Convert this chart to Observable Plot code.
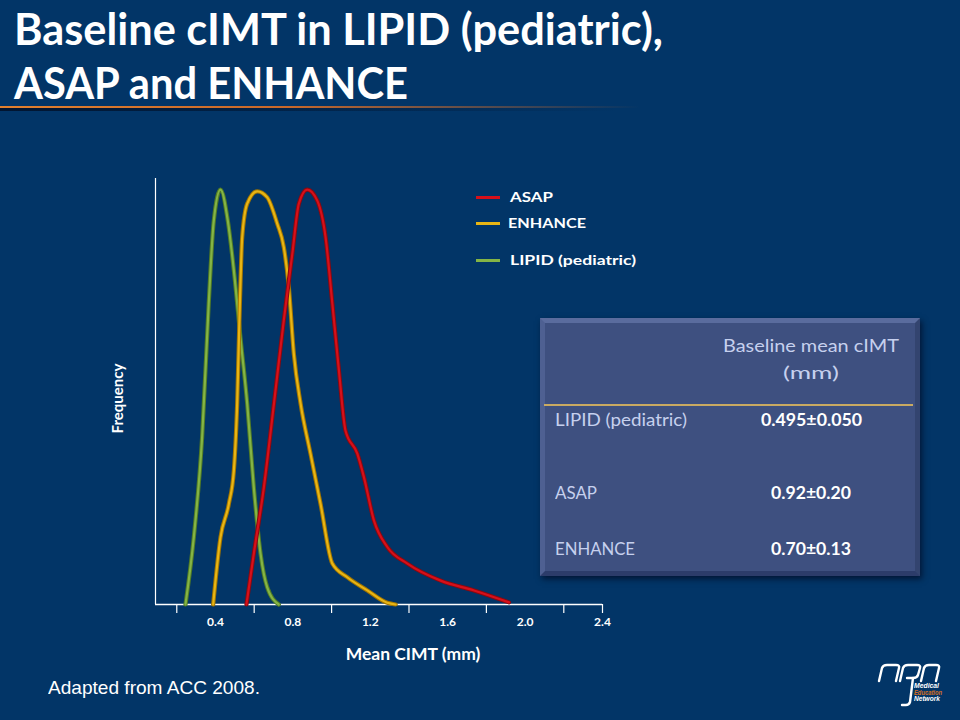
<!DOCTYPE html>
<html>
<head>
<meta charset="utf-8">
<script src="https://cdn.jsdelivr.net/npm/d3@7"></script>
<script src="https://cdn.jsdelivr.net/npm/@observablehq/plot@0.6"></script>
<style>
  html, body { margin: 0; padding: 0; background: #023567; }
  #page { position: relative; width: 960px; height: 720px; overflow: hidden;
          background: #023567; font-family: Lato, "Open Sans", sans-serif; }
  .t { position: absolute; white-space: nowrap; line-height: 1; transform-origin: 0 50%; }
  #plot { position: absolute; left: 0; top: 130px; }
  #rule { position: absolute; left: 0; top: 106px; width: 640px; height: 2px;
          background: linear-gradient(to right, #e2802e 0%, #c8682a 45%, rgba(200,104,42,0) 100%); }
  #ruleShadow { position: absolute; left: 0; top: 108px; width: 620px; height: 3px;
          background: linear-gradient(to right, rgba(0,10,30,0.75) 0%, rgba(0,10,30,0.4) 50%, rgba(0,10,30,0) 100%); }
  #table { position: absolute; left: 540px; top: 318px; width: 380px; height: 258px; box-sizing: border-box;
           background: #3e5080; border-top: 5px solid #5a6c9e; border-left: 5px solid #4e6092;
           border-bottom: 5px solid #2c3c6a; border-right: 5px solid #33446f;
           box-shadow: 2px 3px 6px rgba(0,0,20,0.6); }
  #gold { position: absolute; left: 544px; top: 404px; width: 369px; height: 2px; background: #c9aa62; }
  .leg { position: absolute; width: 24px; height: 3px; }
</style>
</head>
<body>
<div id="page">
  <div id="rule"></div><div id="ruleShadow"></div>
  <div id="plot"></div>
  <div id="table"></div>
  <div id="gold"></div>
</div>
<script>
// ---- data ----
const titleLines = ["Baseline cIMT in LIPID (pediatric),", "ASAP and ENHANCE"];
const seriesNames = ["ASAP", "ENHANCE", "LIPID (pediatric)"];
const seriesColors = ["#d6101a", "#e8b514", "#84b445"];
const seriesEdge = ["#8a0810", "#a07400", "#4f7a26"];

const asapX = [0.560, 0.598, 0.650, 0.702, 0.753, 0.797, 0.831, 0.874, 0.926, 0.969, 1.004, 1.038, 1.072, 1.133, 1.167, 1.219, 1.288, 1.392, 1.564, 1.736, 1.917];
const asapY = [0, 11.9, 27.5, 47.1, 66.7, 82.3, 94.1, 97.4, 94.8, 86.2, 70.6, 54.9, 40.8, 35.4, 29.9, 19.7, 13.5, 9.6, 5.6, 3.3, 0.5];

const enhanceX = [0.388, 0.426, 0.469, 0.495, 0.512, 0.526, 0.538, 0.564, 0.616, 0.667, 0.719, 0.753, 0.779, 0.805, 0.840, 0.891, 0.943, 1.004, 1.081, 1.185, 1.288, 1.331];
const enhanceY = [0, 15.8, 23.6, 31.5, 47.1, 70.6, 86.2, 94.1, 97.0, 95.6, 89.4, 83.9, 74.5, 58.8, 47.1, 35.4, 23.6, 9.6, 6.4, 3.3, 0.4, 0];

const lipidX = [0.245, 0.288, 0.331, 0.365, 0.391, 0.426, 0.464, 0.495, 0.529, 0.564, 0.598, 0.633, 0.667, 0.727];
const lipidY = [0, 15.8, 39.3, 70.6, 90, 97.4, 90, 78.4, 62.7, 47.1, 27.5, 11.9, 4.1, 0];

const xDomain = [0.09, 2.4];
const xTickLabels = [0.4, 0.8, 1.2, 1.6, 2.0, 2.4];
const xTickMarks = [0.2, 0.6, 1.0, 1.4, 1.8, 2.2, 2.4];
const xLabel = "Mean CIMT (mm)";
const yLabel = "Frequency";

const tableHeader = ["Baseline mean cIMT", "(mm)"];
const tableStudies = ["LIPID (pediatric)", "ASAP", "ENHANCE"];
const tableValues = ["0.495±0.050", "0.92±0.20", "0.70±0.13"];
const footnote = "Adapted from ACC 2008.";
const logoWords = ["Medical", "Education", "Network"];

// ---- build table for Plot ----
const xsAll = [asapX, enhanceX, lipidX], ysAll = [asapY, enhanceY, lipidY];
const rows = [];
[2, 1, 0].forEach(i => xsAll[i].forEach((x, j) => rows.push({series: seriesNames[i], x, y: ysAll[i][j], k: i})));

const chart = Plot.plot({
  width: 640, height: 540,
  marginLeft: 155, marginRight: 38, marginTop: 48, marginBottom: 66,
  style: {background: "transparent", color: "white", fontFamily: "Lato, 'Open Sans', sans-serif", overflow: "visible"},
  x: {domain: xDomain, axis: null},
  y: {domain: [0, 100], axis: null},
  color: {domain: seriesNames, range: seriesColors},
  marks: [
    Plot.ruleY([0], {stroke: "white", strokeWidth: 1.5}),
    Plot.ruleX([xDomain[0]], {stroke: "white", strokeWidth: 1.2}),
    Plot.axisX(xTickMarks, {tickSize: 9, tickFormat: () => "", stroke: "white", strokeWidth: 1.2, label: null}),
    Plot.axisX(xTickLabels, {tickSize: 0, tickPadding: 13, tickFormat: d3.format(".1f"), fontSize: 12, fontWeight: "bold", fill: "white", label: null}),
    ...[2, 1, 0].flatMap(i => [
      Plot.line(rows.filter(d => d.k === i), {x: "x", y: "y", curve: "monotone-x", stroke: seriesEdge[i], strokeWidth: 4.2, strokeLinecap: "round"}),
      Plot.line(rows.filter(d => d.k === i), {x: "x", y: "y", curve: "monotone-x", stroke: seriesColors[i], strokeWidth: 2.2, strokeLinecap: "round"})
    ]),
    Plot.text([xLabel], {frameAnchor: "bottom", dx: 34, dy: 55, fontSize: 17.5, fontWeight: "bold", fill: "white"}),
    Plot.text([yLabel], {frameAnchor: "left", textAnchor: "middle", dx: -37, dy: 7, rotate: -90, fontSize: 15, fontWeight: "bold", fill: "white"})
  ]
});
document.getElementById("plot").appendChild(chart);

// ---- text helpers ----
const page = document.getElementById("page");
function place(text, o) {
  const el = document.createElement("div");
  el.className = "t";
  el.textContent = text;
  el.style.fontFamily = o.family || "Lato, 'Open Sans', sans-serif";
  el.style.fontSize = o.fs + "px";
  el.style.fontWeight = o.weight || "normal";
  el.style.color = o.color || "white";
  const capC = o.capC || 0.53;
  el.style.top = (o.cy - capC * o.fs) + "px";
  page.appendChild(el);
  const w = el.getBoundingClientRect().width;
  const left = o.left !== undefined ? o.left : o.center - o.width / 2;
  el.style.left = left + "px";
  if (o.width) el.style.transform = "scaleX(" + (o.width / w) + ")";
  return el;
}

// title
place(titleLines[0], {left: 14, width: 649, cy: 29.5, fs: 43, weight: "bold"});
place(titleLines[1], {left: 14, width: 394, cy: 84, fs: 43, weight: "bold"});

// legend
const legY = [197, 223, 260];
const legW = [43, 78, 126];
seriesNames.forEach((n, i) => {
  const ln = document.createElement("div");
  ln.className = "leg";
  ln.style.left = "476px"; ln.style.top = (legY[i] - 1.5) + "px";
  ln.style.background = seriesColors[i];
  page.appendChild(ln);
  place(n, {left: i === 1 ? 508 : 510, width: legW[i], cy: legY[i], fs: 14, weight: "bold"});
});

// table
place(tableHeader[0], {left: 723, width: 176, cy: 347, fs: 16.5, color: "#c6d0ee"});
place(tableHeader[1], {center: 811, width: 56, cy: 374, fs: 16.5, color: "#c6d0ee"});
const rowY = [421, 494, 550];
const labW = [132, 42, 80];
const valW = [101, 80, 80];
tableStudies.forEach((s, i) => {
  place(s, {left: 555, width: labW[i], cy: rowY[i], fs: 16.5, color: "#c6d0ee"});
  place(tableValues[i], {center: 811, width: valW[i], cy: rowY[i], fs: 16.5, weight: "bold"});
});

// footnote
place(footnote, {left: 48, width: 212, cy: 688, fs: 18.6, family: "'Liberation Sans', Arial, sans-serif", capC: 0.49});

// logo
const svgNS = "http://www.w3.org/2000/svg";
const logo = document.createElementNS(svgNS, "svg");
logo.setAttribute("width", 80); logo.setAttribute("height", 55);
logo.style.position = "absolute"; logo.style.left = "872px"; logo.style.top = "658px";
logo.innerHTML = `
 <g fill="none" stroke="white" stroke-width="2.4" stroke-linejoin="round" stroke-linecap="round">
  <path d="M7,23 L10,10 Q11,7 15,7 L24,7 Q28,7 27,10 L24,23"/>
  <path d="M28,23 L31,10 Q32,7 36,7 L45,7 Q49,7 48,10 L46,17 Q45,20 41,20 L35,20"/>
  <path d="M41,20 L38,44 Q37,47 34,47 L30,47"/>
  <path d="M52,10 Q53,7 57,7 L64,7 Q68,7 67,10 L64,23"/>
  <path d="M52,10 L49,23"/>
 </g>
 <g font-family="'Liberation Sans', Arial, sans-serif" font-size="7" font-weight="bold" font-style="italic">
  <text x="42" y="30" fill="white" textLength="25" lengthAdjust="spacingAndGlyphs">${logoWords[0]}</text>
  <text x="42" y="36.5" fill="#d36f24" textLength="28" lengthAdjust="spacingAndGlyphs">${logoWords[1]}</text>
  <text x="42" y="43" fill="white" textLength="26" lengthAdjust="spacingAndGlyphs">${logoWords[2]}</text>
 </g>`;
page.appendChild(logo);
</script>
</body>
</html>
